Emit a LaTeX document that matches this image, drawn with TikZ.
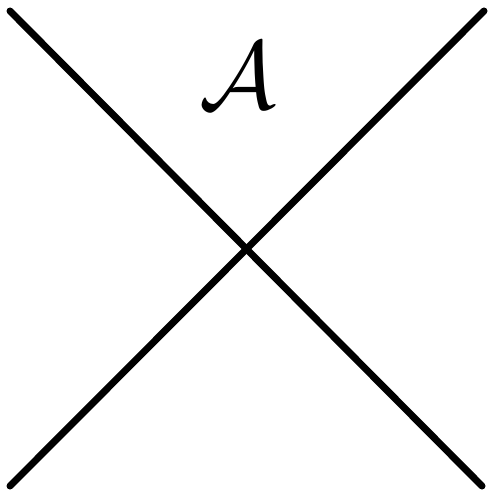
\documentclass[tikz,border=0pt]{standalone}
\tikzset{stroke/.style={line width=7pt, line cap=round, black}}
\begin{document}
\begin{tikzpicture}[x=1pt,y=-1pt]
\useasboundingbox (0,0) rectangle (490,494);
\coordinate (tl) at (10,11);
\coordinate (br) at (482,486);
\coordinate (tr) at (484,11);
\coordinate (bl) at (10,486);
\draw[stroke] (tl) -- (br);
\draw[stroke] (tr) -- (bl);
\node[inner sep=0pt, scale=9.6] (A) at (238,76) {$\mathcal{A}$};
\end{tikzpicture}
\end{document}
